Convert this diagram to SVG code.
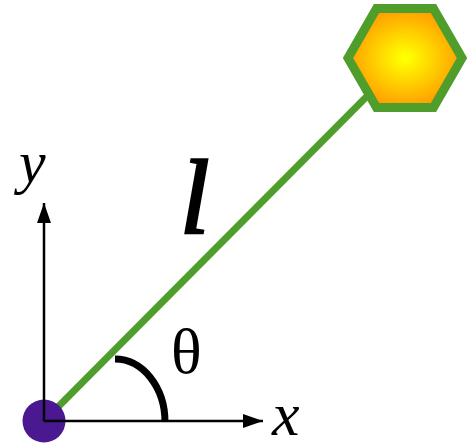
<svg xmlns="http://www.w3.org/2000/svg" width="472" height="447" viewBox="0 0 472 447">
<defs>
<radialGradient id="hexFill" cx="0.5" cy="0.5" r="0.55">
<stop offset="0.05" stop-color="#ffff00"/>
<stop offset="1" stop-color="#ff9400"/>
</radialGradient>
<marker id="arrow" viewBox="0 0 20 14" refX="20" refY="7" markerWidth="20" markerHeight="14" markerUnits="userSpaceOnUse" orient="auto">
<path d="M0 0 L20 7 L0 14 Z" fill="#000"/>
</marker>
<style>
.axis{stroke:#000;stroke-width:2.5;fill:none}
.lbl{font-family:"Liberation Serif","Times New Roman",serif;fill:#000}
</style>
</defs>
<rect width="472" height="447" fill="#fff"/>
<g id="connectors">
<line id="rod" x1="44" y1="421" x2="405" y2="58" stroke="#4f9e2c" stroke-width="7"/>
</g>
<g id="bob">
<polygon points="462,58 433.5,8.6 376.5,8.6 348,58 376.5,107.4 433.5,107.4" fill="url(#hexFill)" stroke="#4f9e2c" stroke-width="9"/>
</g>
<g id="pivot">
<circle cx="44" cy="421" r="21.5" fill="#4a1890"/>
</g>
<g id="axes">
<line class="axis" x1="44" y1="421" x2="44" y2="203" marker-end="url(#arrow)"/>
<line class="axis" x1="44" y1="421" x2="263" y2="421" marker-end="url(#arrow)"/>
</g>
<g id="angle">
<path d="M115 359 A50 63 0 0 1 165 422" fill="none" stroke="#000" stroke-width="7"/>
</g>
<text class="lbl" x="171" y="373" font-size="64">θ</text>
<text class="lbl" x="180" y="233" font-size="106" font-style="italic" stroke="#000" stroke-width="2.5">l</text>
<text class="lbl" x="19" y="182" font-size="60" font-style="italic">y</text>
<text class="lbl" x="272" y="435" font-size="62" font-style="italic">x</text>
</svg>
